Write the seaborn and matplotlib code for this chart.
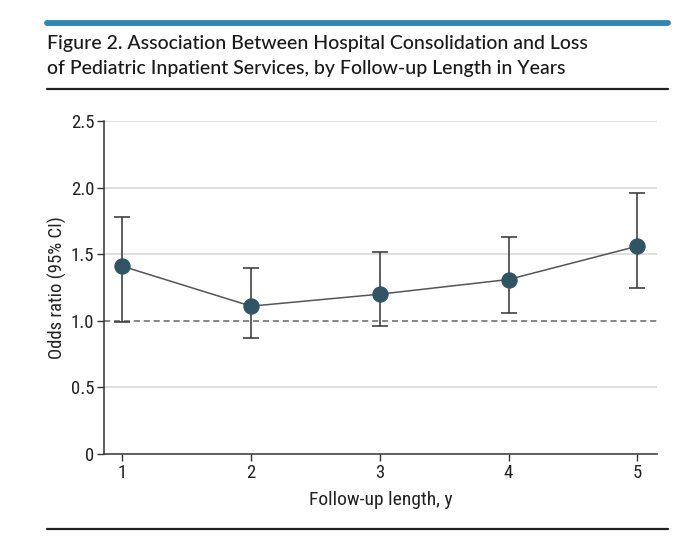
import matplotlib
matplotlib.use("Agg")
import matplotlib.pyplot as plt
import seaborn as sns
import pandas as pd
from matplotlib import font_manager
from matplotlib.lines import Line2D

# data
years = [1, 2, 3, 4, 5]
odds_ratio = [1.41, 1.11, 1.20, 1.31, 1.56]
ci_low = [0.99, 0.87, 0.96, 1.06, 1.25]
ci_high = [1.78, 1.40, 1.52, 1.63, 1.96]
y_ticks = [0, 0.5, 1.0, 1.5, 2.0, 2.5]
y_tick_labels = ["0", "0.5", "1.0", "1.5", "2.0", "2.5"]

TITLE = ("Figure 2. Association Between Hospital Consolidation and Loss\n"
         "of Pediatric Inpatient Services, by Follow-up Length in Years")

installed = {f.name for f in font_manager.fontManager.ttflist}
narrow = "Roboto"
for cand in ["Liberation Sans Narrow", "Roboto Condensed", "Open Sans Condensed"]:
    if cand in installed:
        narrow = cand
        break
title_font = "Lato" if "Lato" in installed else "DejaVu Sans"

sns.set_theme(style="white")
plt.rcParams["font.family"] = [narrow, "DejaVu Sans"]

df = pd.DataFrame({"year": years, "or": odds_ratio, "lo": ci_low, "hi": ci_high})

fig = plt.figure(figsize=(6.8, 5.54), dpi=100)
ax = fig.add_axes([104 / 680, 100 / 554, 552.7 / 680, 333 / 554])

# gridlines + reference line
for v in [0.5, 1.5, 2.0, 2.5]:
    ax.axhline(v, color="#d9d9d9", lw=1.2, zorder=0)
ax.axhline(1.0, color="#666666", lw=1.1, ls=(0, (4, 2.5)), zorder=1)

ax.errorbar(df["year"], df["or"],
            yerr=[df["or"] - df["lo"], df["hi"] - df["or"]],
            fmt="none", ecolor="#333333", elinewidth=1.1, capsize=6, capthick=1.1, zorder=2)
sns.lineplot(data=df, x="year", y="or", ax=ax, color="#555555", lw=1.1,
             marker="o", markersize=11, markerfacecolor="#2f5565",
             markeredgecolor="#2f5565", zorder=3)

ax.set_xlim(0.858, 5.151)
ax.set_ylim(0, 2.5)
ax.set_xticks(years)
ax.set_yticks(y_ticks)
ax.set_yticklabels(y_tick_labels)
ax.tick_params(axis="both", direction="out", length=5, width=1, color="#333333",
               labelsize=13.5, labelcolor="#222222", pad=2, left=True, bottom=True)
for s in ["top", "right"]:
    ax.spines[s].set_visible(False)
for s in ["left", "bottom"]:
    ax.spines[s].set_color("#333333")
    ax.spines[s].set_linewidth(1.1)
ax.set_xlabel("Follow-up length, y", fontsize=14, color="#222222", labelpad=7)
ax.set_ylabel("Odds ratio (95% CI)", fontsize=13.5, color="#222222", labelpad=3)

# header / footer rules
fig.add_artist(Line2D([47 / 680, 668 / 680], [1 - 22.5 / 554] * 2, color="#2a87b8", lw=4.2))
fig.add_artist(Line2D([47 / 680, 668 / 680], [1 - 89 / 554] * 2, color="#222222", lw=1.6))
fig.add_artist(Line2D([47 / 680, 668 / 680], [1 - 529 / 554] * 2, color="#222222", lw=1.6))
fig.text(47 / 680, 1 - 35 / 554, TITLE, ha="left", va="top", fontsize=14,
         family=[title_font, "DejaVu Sans"], weight="medium", color="#1a1a1a",
         linespacing=1.55)

fig.savefig("out.png", dpi=100)
